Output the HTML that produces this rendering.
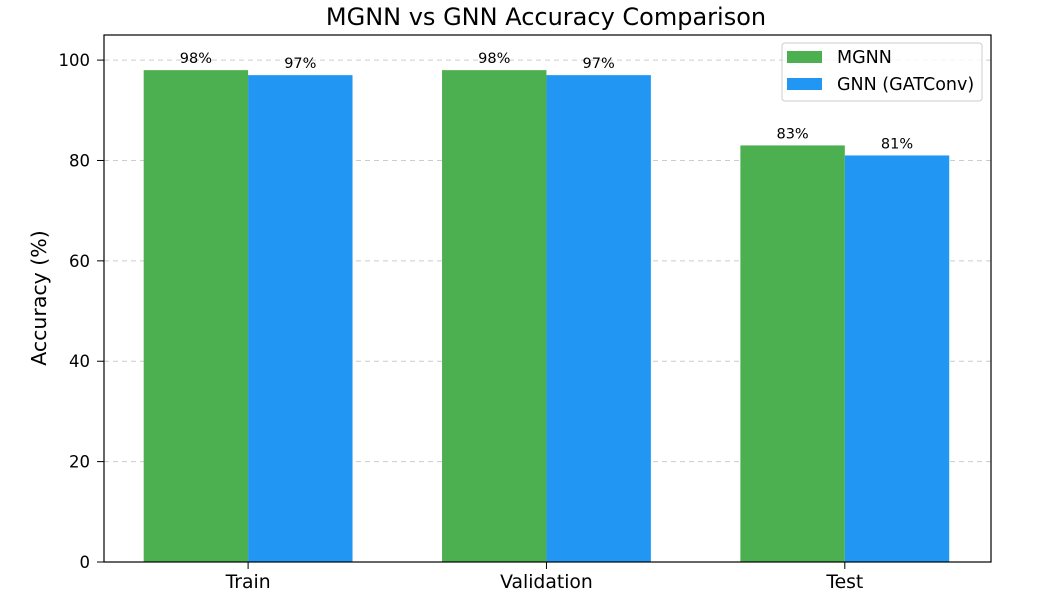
<!DOCTYPE html>
<html><head><meta charset="utf-8"><style>
body{margin:0;background:#fff;}
svg{display:block;font-family:"DejaVu Sans","Liberation Sans",sans-serif;}
</style></head><body>
<svg id="chart" width="1051" height="606">
<text x="546" y="25" font-size="24" text-anchor="middle" fill="#000">MGNN vs GNN Accuracy Comparison</text>
<text transform="translate(46,298) rotate(-90)" font-size="20.5" text-anchor="middle">Accuracy (%)</text>
<g id="grid"></g><g id="bars"></g><g id="axes"></g>
<g>
<rect x="782" y="43" width="200" height="58" rx="3" fill="#fff" fill-opacity="0.8" stroke="#ccc"/>
<rect x="787" y="51" width="35" height="12" fill="#4caf50"/>
<text x="837" y="63" font-size="17.5">MGNN</text>
<rect x="787" y="78" width="35" height="12" fill="#2196f3"/>
<text x="837" y="90" font-size="17.5">GNN (GATConv)</text>
</g>
</svg>
<script>
const categories=["Train","Validation","Test"];
const mgnnValues=[98,98,83];
const gnnValues=[97,97,81];
const mgnnLabels=["98%","98%","83%"];
const gnnLabels=["97%","97%","81%"];
const yTicks=[0,20,40,60,80,100];
const L=104,R=991,T=35,B=562,xmin=-0.483,xmax=2.49,ymax=105,bw=0.35;
const NS="http://www.w3.org/2000/svg";
const x=v=>L+(v-xmin)/(xmax-xmin)*(R-L);
const y=v=>B-v/ymax*(B-T);
function mk(tag,attrs,parent,text){const e=document.createElementNS(NS,tag);for(const k in attrs)e.setAttribute(k,attrs[k]);if(text!==undefined)e.textContent=text;document.getElementById(parent).appendChild(e);return e;}
yTicks.forEach(t=>{
 if(t>0){const g=mk('line',{x1:L,x2:R,y1:y(t),y2:y(t),stroke:'#ccc','stroke-dasharray':'5,4','stroke-width':1},'grid');
 
 }
 const tk=mk('line',{x1:L-7,x2:L,y1:y(t),y2:y(t),stroke:'#000'},'axes');
 
 
 const tl=mk('text',{x:L-14,y:y(t)+6,'font-size':16.5,'text-anchor':'end'},'axes',t);
 
 
});
categories.forEach((c,i)=>{
 [[mgnnValues,mgnnLabels,'#4caf50',-bw,'mgnn'],[gnnValues,gnnLabels,'#2196f3',0,'gnn']].forEach(([vals,labs,col,off,nm])=>{
  const r=mk('rect',{x:x(i+off),y:y(vals[i]),width:x(i+off+bw)-x(i+off),height:B-y(vals[i]),fill:col},'bars');
  
  
  const tl=mk('text',{x:x(i+off+bw/2),y:y(vals[i])-7,'font-size':14.5,'text-anchor':'middle'},'bars',labs[i]);
  
  
 });
 const tk=mk('line',{x1:x(i),x2:x(i),y1:B,y2:B+7,stroke:'#000'},'axes');
 
 
 const xl=mk('text',{x:x(i),y:B+26,'font-size':18.8,'text-anchor':'middle'},'axes',c);
 
 
});
const fr=mk('rect',{x:L,y:T,width:R-L,height:B-T,fill:'none',stroke:'#000','stroke-width':1.2},'axes');


</script>
</body></html>
